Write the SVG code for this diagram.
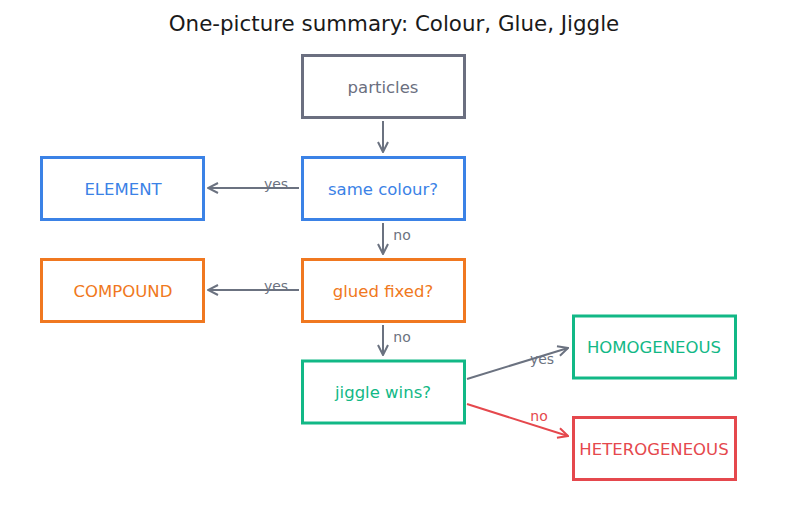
<svg xmlns="http://www.w3.org/2000/svg" width="787" height="508" viewBox="0 0 787 508">
<style>
text{font-family:"DejaVu Sans",sans-serif;text-anchor:middle;dominant-baseline:central}
.box{fill:#fff;stroke-width:3}
.lbl{font-size:16.5px}
.el{font-size:14px;fill:#6b7280}
.c{fill:none;stroke:#6b7280;stroke-width:2}
</style>
<defs>
<marker id="ag" viewBox="0 0 12 12" refX="11" refY="6" markerWidth="12" markerHeight="12" markerUnits="userSpaceOnUse" orient="auto"><path d="M1,1 L11,6 L1,11" fill="none" stroke="#6b7280" stroke-width="2"/></marker>
<marker id="ar" viewBox="0 0 12 12" refX="11" refY="6" markerWidth="12" markerHeight="12" markerUnits="userSpaceOnUse" orient="auto"><path d="M1,1 L11,6 L1,11" fill="none" stroke="#e5484d" stroke-width="2"/></marker>
</defs>
<rect width="787" height="508" fill="#fff"/>
<text x="394" y="23" font-size="21.4" fill="#1a1a1a">One-picture summary: Colour, Glue, Jiggle</text>
<g id="connectors">
<line class="c" x1="383" y1="121" x2="383" y2="152" marker-end="url(#ag)"/>
<line class="c" x1="299" y1="188" x2="208" y2="188" marker-end="url(#ag)"/>
<line class="c" x1="383" y1="223" x2="383" y2="254" marker-end="url(#ag)"/>
<line class="c" x1="299" y1="290" x2="208" y2="290" marker-end="url(#ag)"/>
<line class="c" x1="383" y1="325" x2="383" y2="355" marker-end="url(#ag)"/>
<line class="c" x1="467" y1="379" x2="568" y2="348" marker-end="url(#ag)"/>
<line class="c" x1="467" y1="404" x2="568" y2="436" style="stroke:#e5484d" marker-end="url(#ar)"/>
<text class="el" x="276" y="184">yes</text>
<text class="el" x="402" y="235">no</text>
<text class="el" x="276" y="286">yes</text>
<text class="el" x="402" y="337">no</text>
<text class="el" x="542" y="359">yes</text>
<text class="el" x="539" y="416" style="fill:#e5484d">no</text>
</g>
<g id="particles"><rect class="box" x="302.5" y="55.5" width="162" height="62" stroke="#6b6f80"/><text class="lbl" x="383" y="87" fill="#6b6f80">particles</text></g>
<g id="same"><rect class="box" x="302.5" y="157.5" width="162" height="62" stroke="#3b82e6"/><text class="lbl" x="383" y="189" fill="#3b82e6">same colour?</text></g>
<g id="element"><rect class="box" x="41.5" y="157.5" width="162" height="62" stroke="#3b82e6"/><text class="lbl" x="123" y="189" fill="#3b82e6">ELEMENT</text></g>
<g id="glued"><rect class="box" x="302.5" y="259.5" width="162" height="62" stroke="#f07820"/><text class="lbl" x="383" y="291" fill="#f07820">glued fixed?</text></g>
<g id="compound"><rect class="box" x="41.5" y="259.5" width="162" height="62" stroke="#f07820"/><text class="lbl" x="123" y="291" fill="#f07820">COMPOUND</text></g>
<g id="jiggle"><rect class="box" x="302.5" y="361" width="162" height="62" stroke="#12b886"/><text class="lbl" x="383" y="392" fill="#12b886">jiggle wins?</text></g>
<g id="homog"><rect class="box" x="573.5" y="316" width="162" height="62" stroke="#12b886"/><text class="lbl" x="654" y="347" fill="#12b886">HOMOGENEOUS</text></g>
<g id="hetero"><rect class="box" x="573.5" y="417.5" width="162" height="62" stroke="#e5484d"/><text class="lbl" x="654" y="449" fill="#e5484d">HETEROGENEOUS</text></g>
</svg>
